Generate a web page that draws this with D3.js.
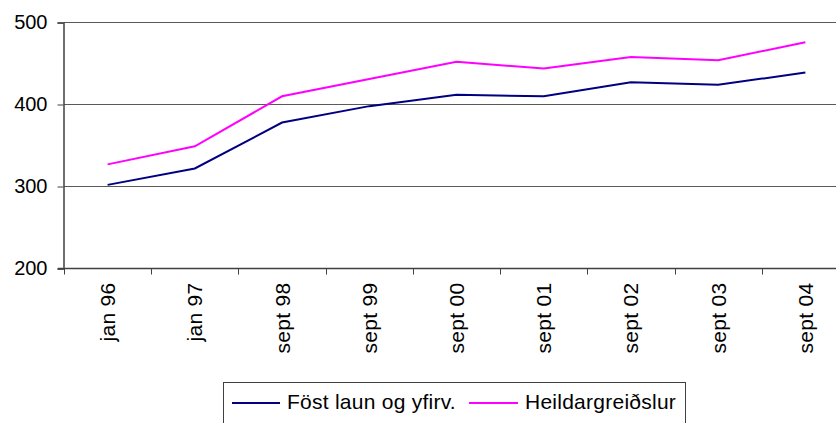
<!DOCTYPE html>
<html>
<head>
<meta charset="utf-8">
<script src="https://cdn.jsdelivr.net/npm/d3@7"></script>
<style>
  html, body { margin: 0; padding: 0; background: #fff; }
  svg { display: block; font-family: "Liberation Sans", Arial, sans-serif; }
</style>
</head>
<body>
<svg id="chart" width="836" height="423"></svg>
<script>
const categories = ["jan 96", "jan 97", "sept 98", "sept 99", "sept 00", "sept 01", "sept 02", "sept 03", "sept 04"];
const fostLaun = [302, 322, 378, 398, 412, 410, 427, 424, 439];
const heildar = [327, 349, 410, 431, 452, 444, 458, 454, 476];
const yTicks = [200, 300, 400, 500];
const seriesNames = ["Föst laun og yfirv.", "Heildargreiðslur"];
const seriesColors = ["#000080", "#FF00FF"];

const svg = d3.select("#chart");
const plotLeft = 64, plotRight = 849, plotTop = 22.5, plotBottom = 268.5;

const x = d3.scaleBand().domain(categories).range([plotLeft, plotRight]);
const y = d3.scaleLinear().domain([200, 500]).range([plotBottom, plotTop]);

// gridlines
svg.append("g").selectAll("line")
  .data(yTicks.filter(d => d !== 200))
  .join("line")
  .attr("x1", plotLeft).attr("x2", plotRight)
  .attr("y1", d => y(d)).attr("y2", d => y(d))
  .attr("stroke", "#5a5a5a").attr("stroke-width", 1.2);

// y axis
const yAxis = d3.axisLeft(y).tickValues(yTicks).tickSize(6).tickPadding(10).tickFormat(d3.format("d"));
const gy = svg.append("g").attr("transform", `translate(${plotLeft - 0.5},0)`).call(yAxis);
gy.select(".domain").attr("stroke", "#404040").attr("stroke-width", 1.5);
gy.selectAll(".tick line").attr("stroke", "#404040");
gy.selectAll(".tick text").attr("font-size", 20).attr("fill", "#000")
  .attr("font-family", "'Liberation Sans', Arial, sans-serif");

// x axis line
svg.append("line")
  .attr("x1", plotLeft - 6).attr("x2", plotRight)
  .attr("y1", plotBottom).attr("y2", plotBottom)
  .attr("stroke", "#404040").attr("stroke-width", 1.5);

// x ticks at category boundaries
const boundaries = categories.map(c => x(c)).concat([x(categories[categories.length - 1]) + x.bandwidth()]);
svg.append("g").selectAll("line")
  .data(boundaries)
  .join("line")
  .attr("x1", d => Math.round(d) + 0.5).attr("x2", d => Math.round(d) + 0.5)
  .attr("y1", plotBottom).attr("y2", plotBottom + 6)
  .attr("stroke", "#404040").attr("stroke-width", 1);

// x labels rotated
svg.append("g").selectAll("text")
  .data(categories)
  .join("text")
  .attr("transform", d => `translate(${x(d) + x.bandwidth() / 2 + 7.5},${plotBottom + 14}) rotate(-90)`)
  .attr("text-anchor", "end")
  .attr("font-size", 21)
  .attr("letter-spacing", 0.3)
  .attr("fill", "#000")
  .text(d => d);

// lines
const line = d3.line()
  .x((d, i) => x(categories[i]) + x.bandwidth() / 2)
  .y(d => y(d));

[fostLaun, heildar].forEach((s, i) => {
  svg.append("path")
    .datum(s)
    .attr("d", line)
    .attr("fill", "none")
    .attr("stroke", seriesColors[i])
    .attr("stroke-width", 2);
});

// legend
const lg = svg.append("g");
lg.append("rect")
  .attr("x", 223.5).attr("y", 382.5)
  .attr("width", 462).attr("height", 60)
  .attr("fill", "#fff").attr("stroke", "#404040").attr("stroke-width", 1);
const legendItems = [
  { name: seriesNames[0], color: seriesColors[0], x1: 232, x2: 280, tx: 287 },
  { name: seriesNames[1], color: seriesColors[1], x1: 469, x2: 518, tx: 525 }
];
legendItems.forEach(it => {
  lg.append("line")
    .attr("x1", it.x1).attr("x2", it.x2)
    .attr("y1", 403).attr("y2", 403)
    .attr("stroke", it.color).attr("stroke-width", 2);
  lg.append("text")
    .attr("x", it.tx).attr("y", 408.5)
    .attr("font-size", 21)
    .attr("letter-spacing", 0.25)
    .attr("fill", "#000")
    .text(it.name);
});
</script>
</body>
</html>
